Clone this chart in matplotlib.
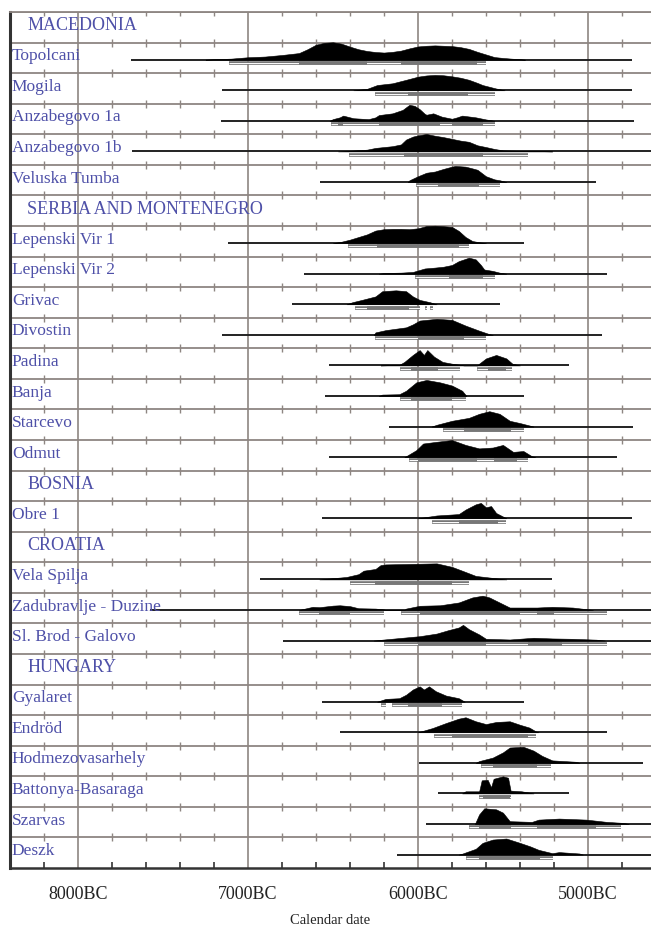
import numpy as np
import matplotlib
matplotlib.use('Agg')
import matplotlib.pyplot as plt
import matplotlib.transforms as mtrans

# rows of the multiplot, top to bottom
rows = ["MACEDONIA", "Topolcani", "Mogila", "Anzabegovo 1a", "Anzabegovo 1b",
        "Veluska Tumba", "SERBIA AND MONTENEGRO", "Lepenski Vir 1", "Lepenski Vir 2",
        "Grivac", "Divostin", "Padina", "Banja", "Starcevo", "Odmut", "BOSNIA",
        "Obre 1", "CROATIA", "Vela Spilja", "Zadubravlje - Duzine", "Sl. Brod - Galovo",
        "HUNGARY", "Gyalaret", "Endröd", "Hodmezovasarhely", "Battonya-Basaraga",
        "Szarvas", "Deszk"]
headers = ["MACEDONIA", "SERBIA AND MONTENEGRO", "BOSNIA", "CROATIA", "HUNGARY"]

major_years = [8000, 7000, 6000, 5000]
major_labels = ["8000BC", "7000BC", "6000BC", "5000BC"]

# each site: full line extent, probability curve (years BC, relative height), 68% and 95% ranges
topolcani_line = (7690, 4740)
topolcani_yr = [7250, 7200, 7100, 7000, 6900, 6800, 6700, 6650, 6600, 6550, 6500, 6450, 6400, 6350,
                6300, 6250, 6200, 6150, 6100, 6050, 6000, 5950, 5900, 5850, 5800, 5750, 5700, 5650,
                5600, 5550, 5500, 5450, 5400, 5370]
topolcani_p = [0, 0.03, 0.06, 0.14, 0.18, 0.27, 0.38, 0.6, 0.86, 0.97, 1.0, 0.92, 0.75, 0.6,
               0.5, 0.44, 0.41, 0.45, 0.52, 0.65, 0.76, 0.8, 0.82, 0.8, 0.78, 0.72, 0.62, 0.45,
               0.3, 0.15, 0.1, 0.06, 0.03, 0]
topolcani_r68 = [(6700, 6300), (6100, 5650)]
topolcani_r95 = [(7110, 5600)]

mogila_line = (7150, 4740)
mogila_yr = [6380, 6300, 6240, 6150, 6070, 6000, 5950, 5900, 5850, 5800, 5750, 5700, 5650, 5620,
             5580, 5540, 5490]
mogila_p = [0, 0.08, 0.3, 0.4, 0.6, 0.78, 0.85, 0.88, 0.86, 0.8, 0.72, 0.6, 0.42, 0.3, 0.2, 0.1, 0]
mogila_r68 = [(6060, 5705)]
mogila_r95 = [(6250, 5545)]

anz1a_line = (7160, 4730)
anz1a_yr = [6520, 6500, 6460, 6440, 6400, 6380, 6330, 6290, 6250, 6230, 6150, 6090, 6060, 6050,
            6020, 5990, 5960, 5950, 5910, 5860, 5800, 5770, 5740, 5700, 5660, 5600, 5550]
anz1a_p = [0, 0.1, 0.2, 0.3, 0.2, 0.15, 0.12, 0.1, 0.2, 0.33, 0.43, 0.63, 0.85, 0.92,
           0.86, 0.67, 0.4, 0.35, 0.43, 0.24, 0.12, 0.2, 0.3, 0.25, 0.2, 0.08, 0]
anz1a_r68 = [(6470, 6440), (6230, 5870), (5800, 5620)]
anz1a_r95 = [(6510, 5545)]

anz1b_line = (7685, 4500)
anz1b_yr = [6470, 6400, 6300, 6250, 6200, 6150, 6100, 6070, 6030, 6000, 5950, 5900, 5850, 5800,
            5750, 5700, 5650, 5600, 5550, 5500, 5400, 5300, 5210]
anz1b_p = [0, 0.04, 0.1, 0.2, 0.25, 0.3, 0.4, 0.68, 0.85, 0.92, 1.0, 0.9, 0.82, 0.72,
           0.62, 0.55, 0.35, 0.25, 0.14, 0.06, 0.03, 0.02, 0]
anz1b_r68 = [(6080, 5620)]
anz1b_r95 = [(6405, 5350)]

veluska_line = (6575, 4950)
veluska_yr = [6060, 6050, 6000, 5950, 5900, 5850, 5800, 5780, 5720, 5680, 5650, 5600, 5550, 5520, 5480]
veluska_p = [0, 0.1, 0.33, 0.53, 0.6, 0.75, 0.88, 0.92, 0.88, 0.78, 0.7, 0.33, 0.15, 0.1, 0]
veluska_r68 = [(5885, 5640)]
veluska_r95 = [(6010, 5520)]

lv1_line = (7120, 5375)
lv1_yr = [6500, 6450, 6400, 6350, 6300, 6250, 6200, 6150, 6100, 6050, 6000, 5950, 5900, 5850,
          5800, 5760, 5720, 5680, 5640, 5600]
lv1_p = [0, 0.08, 0.2, 0.35, 0.5, 0.72, 0.8, 0.82, 0.82, 0.8, 0.85, 0.98, 1.0, 0.97,
         0.93, 0.7, 0.35, 0.12, 0.05, 0]
lv1_r68 = [(6240, 5760)]
lv1_r95 = [(6410, 5700)]

lv2_line = (6670, 4890)
lv2_yr = [6230, 6200, 6100, 6030, 5960, 5900, 5850, 5800, 5760, 5730, 5700, 5660, 5630, 5610,
          5560, 5520, 5480]
lv2_p = [0, 0.04, 0.06, 0.1, 0.3, 0.35, 0.4, 0.5, 0.72, 0.82, 0.92, 0.82, 0.5, 0.24, 0.16, 0.06, 0]
lv2_r68 = [(5820, 5620)]
lv2_r95 = [(6020, 5545)]

grivac_line = (6740, 5520)
grivac_yr = [6420, 6385, 6330, 6250, 6210, 6130, 6070, 6030, 5990, 5930, 5890]
grivac_p = [0, 0.12, 0.25, 0.45, 0.75, 0.8, 0.75, 0.45, 0.25, 0.12, 0]
grivac_r68 = [(6300, 6050)]
grivac_r95 = [(6370, 5990), (5960, 5945), (5930, 5910)]

divostin_line = (7150, 4915)
divostin_yr = [6260, 6250, 6190, 6070, 6030, 5990, 5890, 5800, 5720, 5640, 5580, 5560]
divostin_p = [0, 0.14, 0.27, 0.43, 0.6, 0.82, 0.92, 0.86, 0.53, 0.24, 0.04, 0]
divostin_r68 = [(6000, 5730)]
divostin_r95 = [(6250, 5600)]

padina_line = (6525, 5110)
padina_yr = [6220, 6110, 6080, 6030, 5990, 5965, 5945, 5905, 5855, 5800, 5730, 5650, 5640,
             5600, 5540, 5480, 5445, 5400]
padina_p = [0, 0.03, 0.2, 0.6, 0.88, 0.6, 0.88, 0.5, 0.2, 0.1, 0, 0, 0.1, 0.4, 0.6, 0.4, 0.1, 0]
padina_r68 = [(6040, 5880), (5590, 5480)]
padina_r95 = [(6105, 5750), (5650, 5445)]

banja_line = (6545, 5375)
banja_yr = [6230, 6210, 6110, 6070, 6010, 5950, 5870, 5800, 5740, 5715]
banja_p = [0, 0.08, 0.1, 0.3, 0.78, 0.92, 0.78, 0.6, 0.3, 0]
banja_r68 = [(6040, 5800)]
banja_r95 = [(6105, 5720)]

starcevo_line = (6170, 4735)
starcevo_yr = [5920, 5890, 5800, 5700, 5640, 5580, 5520, 5460, 5400, 5360, 5320]
starcevo_p = [0, 0.1, 0.33, 0.5, 0.73, 0.88, 0.73, 0.33, 0.2, 0.1, 0]
starcevo_r68 = [(5730, 5450)]
starcevo_r95 = [(5855, 5375)]

odmut_line = (6525, 4830)
odmut_yr = [6080, 6070, 6010, 5970, 5890, 5800, 5720, 5640, 5560, 5500, 5440, 5380, 5330, 5310]
odmut_p = [0, 0.05, 0.4, 0.78, 0.88, 0.98, 0.7, 0.5, 0.55, 0.7, 0.3, 0.35, 0.05, 0]
odmut_r68 = [(6000, 5650), (5550, 5420)]
odmut_r95 = [(6055, 5350)]

obre_line = (6565, 4740)
obre_yr = [6000, 5890, 5760, 5720, 5660, 5630, 5600, 5570, 5540, 5480]
obre_p = [0, 0.16, 0.24, 0.5, 0.8, 0.88, 0.63, 0.7, 0.3, 0]
obre_r68 = [(5760, 5530)]
obre_r95 = [(5915, 5480)]

vela_line = (6930, 5210)
vela_yr = [6580, 6420, 6350, 6320, 6250, 6220, 6190, 6090, 5990, 5890, 5800, 5740, 5660, 5520, 5480]
vela_p = [0, 0.14, 0.3, 0.5, 0.6, 0.82, 0.86, 0.88, 0.9, 0.92, 0.72, 0.5, 0.2, 0.04, 0]
vela_r68 = [(6250, 5800)]
vela_r95 = [(6400, 5700)]

zadu_line = (7575, 4500)
zadu_yr = [6700, 6620, 6580, 6500, 6460, 6400, 6350, 6250, 6200, 6190, 6080, 6070, 5990, 5870,
           5760, 5680, 5620, 5580, 5520, 5460, 5300, 5210, 5090, 4970]
zadu_p = [0, 0.18, 0.16, 0.25, 0.27, 0.22, 0.1, 0.08, 0.03, 0, 0, 0.08, 0.24, 0.27,
          0.43, 0.72, 0.82, 0.72, 0.43, 0.14, 0.14, 0.18, 0.14, 0]
zadu_r68 = [(6580, 6400), (5990, 5400), (5300, 5200)]
zadu_r95 = [(6700, 6200), (6100, 4890)]

brod_line = (6795, 4500)
brod_yr = [6260, 6200, 6090, 5990, 5890, 5820, 5760, 5735, 5700, 5640, 5600, 5460, 5320, 5210,
           5090, 4950, 4900]
brod_p = [0, 0.06, 0.16, 0.25, 0.4, 0.6, 0.75, 0.9, 0.65, 0.35, 0.1, 0.06, 0.16, 0.12, 0.1, 0.05, 0]
brod_r68 = [(6000, 5600), (5350, 5150)]
brod_r95 = [(6200, 4890)]

gyalaret_line = (6565, 5375)
gyalaret_yr = [6240, 6190, 6110, 6070, 6030, 5990, 5965, 5935, 5895, 5835, 5760, 5725]
gyalaret_p = [0, 0.16, 0.2, 0.4, 0.7, 0.88, 0.7, 0.88, 0.6, 0.35, 0.2, 0]
gyalaret_r68 = [(6060, 5860)]
gyalaret_r95 = [(6220, 6190), (6150, 5740)]

endrod_line = (6460, 4890)
endrod_yr = [6000, 5915, 5835, 5760, 5720, 5660, 5600, 5540, 5460, 5400, 5345, 5305, 5290]
endrod_p = [0, 0.24, 0.53, 0.78, 0.86, 0.63, 0.47, 0.59, 0.63, 0.43, 0.27, 0.04, 0]
endrod_r68 = [(5800, 5350)]
endrod_r95 = [(5905, 5305)]

hodmez_line = (5995, 4675)
hodmez_yr = [5660, 5640, 5560, 5500, 5460, 5380, 5320, 5270, 5210, 5070, 5050]
hodmez_p = [0, 0.1, 0.3, 0.6, 0.88, 0.92, 0.7, 0.4, 0.14, 0.06, 0]
hodmez_r68 = [(5560, 5300)]
hodmez_r95 = [(5630, 5215)]

battonya_line = (5880, 5110)
battonya_yr = [5740, 5720, 5640, 5625, 5590, 5570, 5555, 5500, 5470, 5455, 5390, 5320]
battonya_p = [0, 0.12, 0.12, 0.75, 0.78, 0.35, 0.84, 0.98, 0.9, 0.16, 0.12, 0]
battonya_r68 = [(5620, 5460)]
battonya_r95 = [(5640, 5455)]

szarvas_line = (5950, 4500)
szarvas_yr = [5665, 5640, 5610, 5540, 5500, 5460, 5330, 5290, 5170, 5010, 4890, 4790, 4760]
szarvas_p = [0, 0.55, 0.9, 0.84, 0.65, 0.16, 0.12, 0.25, 0.31, 0.25, 0.12, 0.06, 0]
szarvas_r68 = [(5640, 5450), (5300, 4950)]
szarvas_r95 = [(5700, 4805)]

deszk_line = (6125, 4500)
deszk_yr = [5760, 5740, 5660, 5620, 5560, 5480, 5400, 5340, 5290, 5210, 5170, 5050, 5030]
deszk_p = [0, 0.05, 0.33, 0.67, 0.86, 0.92, 0.67, 0.47, 0.27, 0.08, 0.14, 0.06, 0]
deszk_r68 = [(5640, 5280)]
deszk_r95 = [(5715, 5205)]

sites = {
    "Topolcani": (topolcani_line, topolcani_yr, topolcani_p, topolcani_r68, topolcani_r95),
    "Mogila": (mogila_line, mogila_yr, mogila_p, mogila_r68, mogila_r95),
    "Anzabegovo 1a": (anz1a_line, anz1a_yr, anz1a_p, anz1a_r68, anz1a_r95),
    "Anzabegovo 1b": (anz1b_line, anz1b_yr, anz1b_p, anz1b_r68, anz1b_r95),
    "Veluska Tumba": (veluska_line, veluska_yr, veluska_p, veluska_r68, veluska_r95),
    "Lepenski Vir 1": (lv1_line, lv1_yr, lv1_p, lv1_r68, lv1_r95),
    "Lepenski Vir 2": (lv2_line, lv2_yr, lv2_p, lv2_r68, lv2_r95),
    "Grivac": (grivac_line, grivac_yr, grivac_p, grivac_r68, grivac_r95),
    "Divostin": (divostin_line, divostin_yr, divostin_p, divostin_r68, divostin_r95),
    "Padina": (padina_line, padina_yr, padina_p, padina_r68, padina_r95),
    "Banja": (banja_line, banja_yr, banja_p, banja_r68, banja_r95),
    "Starcevo": (starcevo_line, starcevo_yr, starcevo_p, starcevo_r68, starcevo_r95),
    "Odmut": (odmut_line, odmut_yr, odmut_p, odmut_r68, odmut_r95),
    "Obre 1": (obre_line, obre_yr, obre_p, obre_r68, obre_r95),
    "Vela Spilja": (vela_line, vela_yr, vela_p, vela_r68, vela_r95),
    "Zadubravlje - Duzine": (zadu_line, zadu_yr, zadu_p, zadu_r68, zadu_r95),
    "Sl. Brod - Galovo": (brod_line, brod_yr, brod_p, brod_r68, brod_r95),
    "Gyalaret": (gyalaret_line, gyalaret_yr, gyalaret_p, gyalaret_r68, gyalaret_r95),
    "Endröd": (endrod_line, endrod_yr, endrod_p, endrod_r68, endrod_r95),
    "Hodmezovasarhely": (hodmez_line, hodmez_yr, hodmez_p, hodmez_r68, hodmez_r95),
    "Battonya-Basaraga": (battonya_line, battonya_yr, battonya_p, battonya_r68, battonya_r95),
    "Szarvas": (szarvas_line, szarvas_yr, szarvas_p, szarvas_r68, szarvas_r95),
    "Deszk": (deszk_line, deszk_yr, deszk_p, deszk_r68, deszk_r95),
}

grid_col = '#8e8682'
label_col = '#4e50a8'
serif = ['Liberation Serif', 'DejaVu Serif']

fig = plt.figure(figsize=(6.51, 9.32), dpi=100)
ax = fig.add_axes([10 / 651, 1 - 868 / 932, 1 - 10 / 651, (868 - 12) / 932])
n = len(rows)
ax.set_xlim(8400, 4629)
ax.set_ylim(n, 0)

base_off = 0.56   # baseline of each curve inside a row
hscale = 0.57     # height of a curve with p = 1

# grid: full height lines at the millennia, row separators with small ticks
for yr in major_years:
    ax.axvline(yr, color=grid_col, lw=1.2, zorder=1)
minor = [y for y in range(8400, 4600, -200) if y % 1000 != 0]
for i in range(0, n):
    ax.axhline(i, color=grid_col, lw=1.3, zorder=1)
    ax.plot(minor, [i] * len(minor), ls='none', marker='|', ms=6, mew=1.0,
            color=grid_col, zorder=1)

trans = mtrans.blended_transform_factory(ax.transAxes, ax.transData)
for i, name in enumerate(rows):
    if name in headers:
        ax.text(0.027, i + 0.45, name, transform=trans, color=label_col, fontsize=13,
                family=serif, va='center', ha='left', zorder=4)
        continue
    ax.text(0.003, i + 0.45, name, transform=trans, color=label_col, fontsize=12.5,
            family=serif, va='center', ha='left', zorder=4)
    line, yrs, p, r68, r95 = sites[name]
    base = i + base_off
    ax.plot(line, [base, base], color='#222222', lw=1.4, zorder=3, solid_capstyle='butt')
    ax.fill_between(yrs, base, base - np.array(p) * hscale, color='black', lw=0.4,
                    edgecolor='black', zorder=3)
    rb = base + 0.11
    for a, b in r95:
        ax.plot([a, b], [rb, rb], color='#777777', lw=2.6, zorder=3, solid_capstyle='butt')
        ax.plot([a, b], [rb, rb], color='white', lw=0.7, zorder=3, solid_capstyle='butt')
    for a, b in r68:
        ax.plot([a, b], [rb, rb], color='#777777', lw=2.6, zorder=3, solid_capstyle='butt')

# axes frame
ax.spines['right'].set_visible(False)
ax.spines['top'].set_color(grid_col)
ax.spines['top'].set_linewidth(1.3)
ax.spines['left'].set_color('#333333')
ax.spines['left'].set_linewidth(2.2)
ax.spines['bottom'].set_color('#333333')
ax.spines['bottom'].set_linewidth(1.8)

ax.set_yticks([])
ax.set_xticks(major_years)
ax.set_xticklabels(major_labels, family=serif, fontsize=13, color='#222222')
ax.set_xticks(minor, minor=True)
ax.tick_params(axis='x', which='major', length=0, pad=13)
ax.tick_params(axis='x', which='minor', direction='in', length=4, width=1.2, color='#333333')
ax.set_xlabel('Calendar date', family=serif, fontsize=10.5, color='#222222', labelpad=8)

fig.savefig('out.png', dpi=100)
